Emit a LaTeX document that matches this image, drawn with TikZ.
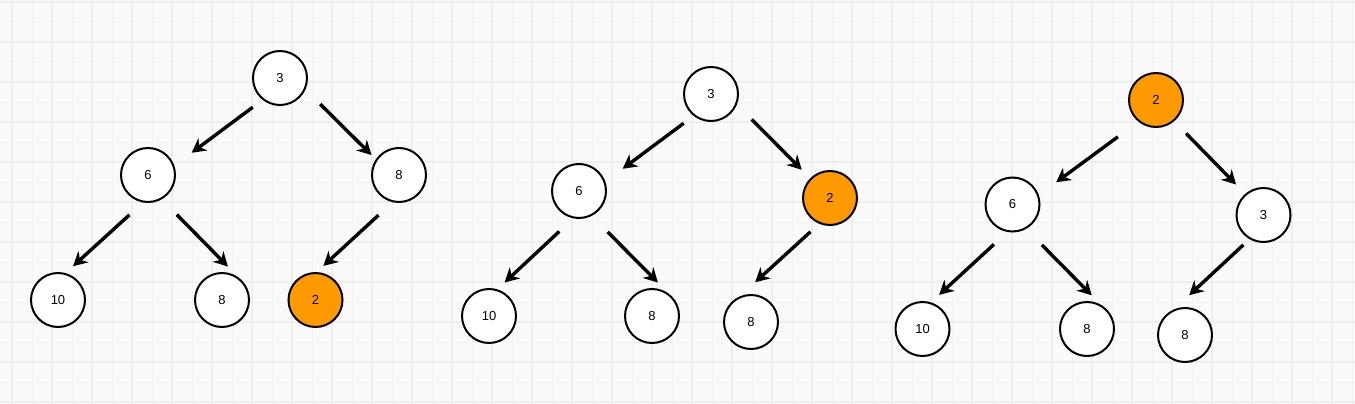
\documentclass[tikz,border=0pt]{standalone}
\usepackage{fontspec}
\setmainfont{Liberation Sans}
\usetikzlibrary{arrows.meta, calc}
\definecolor{heaporange}{HTML}{FF9900}
\definecolor{canvasbg}{HTML}{FAFAFA}
\definecolor{gridmajor}{HTML}{EEEEEE}
\definecolor{gridminor}{HTML}{F3F3F3}
\tikzset{
	heapnode/.style={circle, draw=black, line width=2pt, fill=white, minimum size=54pt, inner sep=0pt, font=\fontsize{13}{15}\selectfont},
	hotnode/.style={heapnode, fill=heaporange},
	edgearrow/.style={line width=3.4pt, -{Stealth[length=14pt, width=15pt, inset=4.5pt]}}
}
\newcommand{\heapedge}[4]{
	\draw[edgearrow] ($(#1)+(#2)$) -- ($(#3)+(#4)$);
}

\begin{document}
\begin{tikzpicture}[x=1pt, y=-1pt]
			\useasboundingbox (0,0) rectangle (1355,404);
			% grid background
			\fill[canvasbg] (0,0) rectangle (1355,404);
			\foreach \gx in {32,72,...,1352} \draw[gridminor, line width=1pt] (\gx,0) -- (\gx,404);
			\foreach \gy in {22,62,...,402} \draw[gridminor, line width=1pt] (0,\gy) -- (1355,\gy);
			\foreach \gx in {12,52,...,1352} \draw[gridmajor, line width=1.5pt] (\gx,0) -- (\gx,404);
			\foreach \gy in {2,42,...,402} \draw[gridmajor, line width=1.5pt] (0,\gy) -- (1355,\gy);
			% First tree
			\node[heapnode] (a3) at (280,78) {3};
			\node[heapnode] (a6) at (148,175) {6};
			\node[heapnode] (a8) at (399,175) {8};
			\node[heapnode] (a10) at (58,300) {10};
			\node[heapnode] (a8b) at (222,300) {8};
			\node[hotnode] (a2) at (315.5,300) {2};
			\heapedge{a3}{227:40pt}{a6}{27:49pt}
			\heapedge{a3}{-33:48pt}{a8}{144:34pt}
			\heapedge{a6}{245:44pt}{a10}{66:37pt}
			\heapedge{a6}{-54:49pt}{a8b}{80:34pt}
			\heapedge{a8}{243:45pt}{a2}{77:35pt}
			% Second tree
			\node[heapnode] (b3) at (711,94) {3};
			\node[heapnode] (b6) at (579,191) {6};
			\node[hotnode] (b2) at (830,198) {2};
			\node[heapnode] (b10) at (489,316) {10};
			\node[heapnode] (b8) at (652,316) {8};
			\node[heapnode] (b8b) at (751,322) {8};
			\heapedge{b3}{227:40pt}{b6}{27:49pt}
			\heapedge{b3}{-32:48pt}{b2}{135:40pt}
			\heapedge{b6}{244:45pt}{b10}{65:37pt}
			\heapedge{b6}{-55:50pt}{b8}{80:34pt}
			\heapedge{b2}{240:39pt}{b8b}{84:40pt}
			% Third tree
			\node[hotnode] (c2) at (1156,100) {2};
			\node[heapnode] (c6) at (1012.5,204.5) {6};
			\node[heapnode] (c3) at (1263.5,215) {3};
			\node[heapnode] (c10) at (922.5,329) {10};
			\node[heapnode] (c8) at (1087,329) {8};
			\node[heapnode] (c8b) at (1185,335) {8};
			\heapedge{c2}{224:53pt}{c6}{27:49pt}
			\heapedge{c2}{-48:45pt}{c3}{132:41pt}
			\heapedge{c6}{245:44pt}{c10}{64:38pt}
			\heapedge{c6}{-54:50pt}{c8}{82:34pt}
			\heapedge{c3}{236:36pt}{c8b}{84:40pt}
\end{tikzpicture}
\end{document}
